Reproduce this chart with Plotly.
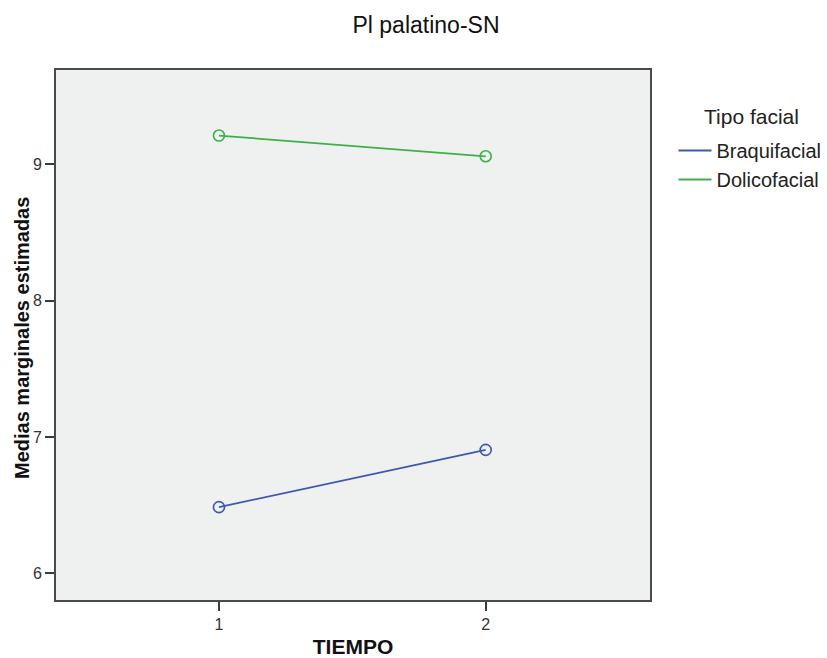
import plotly.graph_objects as go

# Estimated marginal means by time point and facial type
tiempo = [1, 2]
series_names = ["Braquifacial", "Dolicofacial"]
braquifacial = [6.485, 6.905]
dolicofacial = [9.211, 9.059]
series_values = [braquifacial, dolicofacial]
colors = ["#3E58AC", "#3EB04A"]

x_ticks = [1, 2]
y_ticks = [6, 7, 8, 9]

FONT = "Liberation Sans, Arial, sans-serif"

# Plot-area edges in pixels, used to place the free-standing labels
PL, PR, PT, PB = 56, 650, 70, 600

fig = go.Figure()
for name, vals, col in zip(series_names, series_values, colors):
    fig.add_trace(go.Scatter(
        x=tiempo, y=vals, name=name, mode="lines+markers", showlegend=False,
        line=dict(color=col, width=1.7),
        marker=dict(symbol="circle-open", size=11, color=col, line=dict(width=1.6)),
    ))
# Legend entries drawn as plain line swatches
for name, col in zip(series_names, colors):
    fig.add_trace(go.Scatter(
        x=[None], y=[None], name=name, mode="lines",
        line=dict(color=col, width=2), hoverinfo="skip",
    ))

axis_common = dict(
    showgrid=False, zeroline=False, showline=True, mirror=True,
    linecolor="#4a4a4a", linewidth=2,
    ticks="outside", ticklen=9, tickcolor="#3a3a3a", tickwidth=1.5,
    tickfont=dict(family=FONT, size=16, color="#333333"),
    automargin=False,
)

fig.update_layout(
    width=827, height=658,
    margin=dict(l=PL, r=827 - PR, t=PT, b=658 - PB),
    paper_bgcolor="white", plot_bgcolor="#EFF0F0",
    title=dict(text="Pl palatino-SN", x=426/827, xanchor="center",
               xref="container", yref="container",
               y=1 - 25/658, yanchor="middle",
               font=dict(family=FONT, size=23, color="#111111")),
    xaxis=dict(range=[0.389, 2.616], tickvals=x_ticks,
               title=dict(text="<b>TIEMPO</b>", standoff=15,
                          font=dict(family=FONT, size=21, color="#111111")),
               **axis_common),
    yaxis=dict(range=[5.804, 9.692], tickvals=y_ticks, **axis_common),
    legend=dict(
        xref="container", yref="container",
        x=673.5/827, y=1 - 131/658, xanchor="left", yanchor="top",
        bgcolor="rgba(0,0,0,0)",
        font=dict(family=FONT, size=20, color="#222222"),
        itemwidth=33, tracegroupgap=0,
    ),
    annotations=[
        dict(text="Tipo facial", xref="paper", yref="paper",
             x=(751 - PL) / (PR - PL), y=(PB - 116) / (PB - PT),
             xanchor="center", yanchor="middle", showarrow=False,
             font=dict(family=FONT, size=21, color="#222222")),
        dict(text="<b>Medias marginales estimadas</b>", textangle=-90,
             xref="paper", yref="paper",
             x=(22 - PL) / (PR - PL), y=(PB - 338) / (PB - PT),
             xanchor="center", yanchor="middle", showarrow=False,
             font=dict(family=FONT, size=20, color="#111111")),
    ],
    showlegend=True,
)

fig.write_html("out.html")
